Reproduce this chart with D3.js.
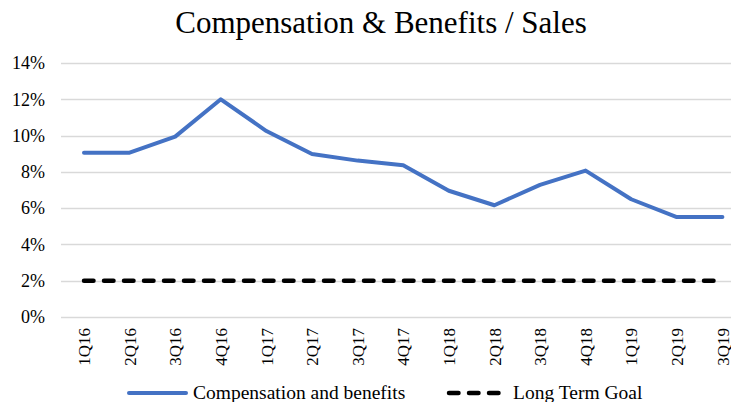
<!DOCTYPE html>
<html>
<head>
<meta charset="utf-8">
<script src="https://cdn.jsdelivr.net/npm/d3@7"></script>
<style>
  body { margin: 0; background: #fff; }
  svg { display: block; }
  svg text { font-family: "Liberation Serif", "Times New Roman", serif; fill: #000; }
</style>
</head>
<body>
<div class="visualization"></div>
<script>
const quarters = ["1Q16", "2Q16", "3Q16", "4Q16", "1Q17", "2Q17", "3Q17", "4Q17",
  "1Q18", "2Q18", "3Q18", "4Q18", "1Q19", "2Q19", "3Q19"];
const compBenefits = [9.06, 9.06, 9.94, 12.0, 10.25, 8.98, 8.62, 8.36,
  6.96, 6.16, 7.28, 8.07, 6.49, 5.51, 5.51];
const longTermGoal = [2, 2, 2, 2, 2, 2, 2, 2, 2, 2, 2, 2, 2, 2, 2];
const yTicks = [0, 2, 4, 6, 8, 10, 12, 14];

class CompChart {
  constructor() {
    this.width = 731;
    this.height = 402;
    this.gridLeft = 61;
    this.gridRight = 731;
    this.top = 63;
    this.bottom = 317;
    this.blue = "#4472c4";

    this.svg = d3.select(".visualization")
      .append("svg")
      .attr("width", this.width)
      .attr("height", this.height);

    this.x = d3.scalePoint().domain(quarters).range([84, 722.4]);
    this.y = d3.scaleLinear().domain([0, 14]).range([this.bottom, this.top]);

    this.drawTitle();
    this.drawGrid();
    this.drawAxes();
    this.drawLines();
    this.drawLegend();
  }

  drawTitle() {
    this.svg.append("text")
      .attr("x", 381)
      .attr("y", 33)
      .attr("text-anchor", "middle")
      .style("font-size", "31px")
      .text("Compensation & Benefits / Sales");
  }

  drawGrid() {
    this.svg.append("g")
      .selectAll("line")
      .data(yTicks)
      .enter()
      .append("line")
      .attr("x1", this.gridLeft)
      .attr("x2", this.gridRight)
      .attr("y1", (d) => Math.round(this.y(d)) + 0.5)
      .attr("y2", (d) => Math.round(this.y(d)) + 0.5)
      .attr("stroke", "#d9d9d9")
      .attr("stroke-width", 1.3);
  }

  drawAxes() {
    let yAxis = d3.axisLeft(this.y)
      .tickValues(yTicks)
      .tickSize(0)
      .tickPadding(0)
      .tickFormat((d) => d + "%");

    this.svg.append("g")
      .attr("class", "axis axis__y")
      .attr("transform", "translate(45,0)")
      .call(yAxis)
      .attr("font-family", "Liberation Serif")
      .attr("font-size", 18)
      .call((g) => g.select(".domain").remove());

    let xAxis = d3.axisBottom(this.x).tickSize(0).tickPadding(0);

    this.svg.append("g")
      .attr("class", "axis axis__x")
      .attr("transform", `translate(0,${this.bottom})`)
      .call(xAxis)
      .attr("font-family", "Liberation Serif")
      .attr("font-size", 17)
      .call((g) => g.select(".domain").remove())
      .selectAll("text")
      .attr("text-anchor", "end")
      .attr("dy", "0.33em")
      .attr("transform", "translate(0,11) rotate(-90)");
  }

  drawLines() {
    const line = d3.line()
      .x((d, i) => this.x(quarters[i]))
      .y((d) => this.y(d));

    this.svg.append("path")
      .datum(longTermGoal)
      .attr("d", line)
      .attr("fill", "none")
      .attr("stroke", "#000")
      .attr("stroke-width", 4.5)
      .attr("stroke-linecap", "round")
      .attr("stroke-dasharray", "9.5,10.5");

    this.svg.append("path")
      .datum(compBenefits)
      .attr("d", line)
      .attr("fill", "none")
      .attr("stroke", this.blue)
      .attr("stroke-width", 4)
      .attr("stroke-linejoin", "round")
      .attr("stroke-linecap", "round");
  }

  drawLegend() {
    const legendY = 393;
    let legend = this.svg.append("g").attr("class", "legend");

    legend.append("line")
      .attr("x1", 129).attr("x2", 186)
      .attr("y1", legendY).attr("y2", legendY)
      .attr("stroke", this.blue)
      .attr("stroke-width", 4)
      .attr("stroke-linecap", "round");

    legend.append("text")
      .attr("x", 193)
      .attr("y", 399)
      .style("font-size", "19.5px")
      .text("Compensation and benefits");

    legend.append("line")
      .attr("x1", 449).attr("x2", 499)
      .attr("y1", legendY).attr("y2", legendY)
      .attr("stroke", "#000")
      .attr("stroke-width", 4.5)
      .attr("stroke-linecap", "round")
      .attr("stroke-dasharray", "9.5,10.5");

    legend.append("text")
      .attr("x", 513)
      .attr("y", 399)
      .style("font-size", "19.5px")
      .text("Long Term Goal");
  }
}

new CompChart();
</script>
</body>
</html>
